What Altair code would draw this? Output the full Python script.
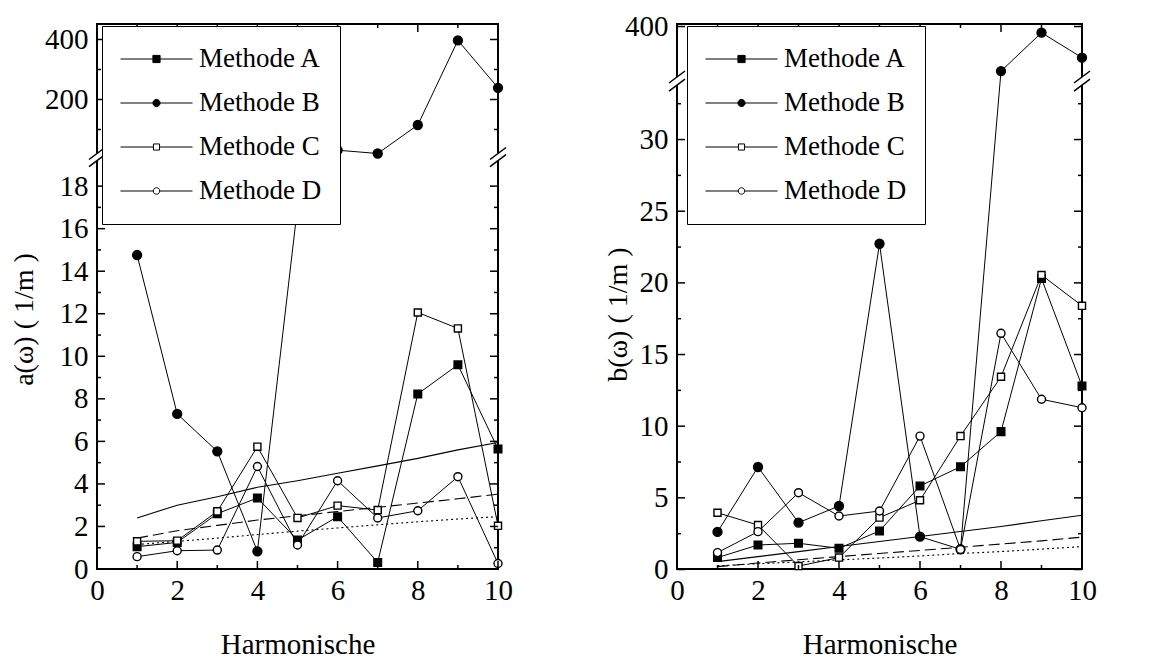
import altair as alt
import pandas as pd

FONT = "Liberation Serif"

harmonische = [1, 2, 3, 4, 5, 6, 7, 8, 9, 10]
methoden = ["Methode A", "Methode B", "Methode C", "Methode D"]

# a(ω) in 1/m, one list per method
a_methode_a = [1.05, 1.25, 2.6, 3.34, 1.36, 2.46, 0.31, 8.23, 9.6, 5.64]
a_methode_b = [14.76, 7.29, 5.53, 0.83, 17.0, 31.0, 20.0, 115.0, 397.0, 239.0]
a_methode_c = [1.30, 1.33, 2.71, 5.75, 2.40, 2.98, 2.77, 12.06, 11.31, 2.03]
a_methode_d = [0.58, 0.86, 0.89, 4.82, 1.13, 4.15, 2.40, 2.74, 4.34, 0.26]
# reference curves for a(ω)
a_kurve_voll = [2.4, 3.0, 3.4, 3.84, 4.15, 4.5, 4.85, 5.2, 5.6, 5.95]
a_kurve_strich = [1.45, 1.8, 2.05, 2.3, 2.5, 2.7, 2.9, 3.1, 3.3, 3.52]
a_kurve_punkt = [1.15, 1.3, 1.45, 1.62, 1.78, 1.93, 2.08, 2.22, 2.35, 2.46]

# b(ω) in 1/m, one list per method
b_methode_a = [0.83, 1.71, 1.83, 1.48, 2.69, 5.83, 7.17, 9.62, 20.3, 12.8]
b_methode_b = [2.62, 7.15, 3.27, 4.43, 22.73, 2.29, 1.41, 241.0, 378.0, 289.0]
b_methode_c = [3.96, 3.10, 0.24, 0.83, 3.62, 4.83, 9.31, 13.45, 20.55, 18.4]
b_methode_d = [1.18, 2.64, 5.36, 3.73, 4.08, 9.31, 1.40, 16.48, 11.88, 11.29]
# reference curves for b(ω)
b_kurve_voll = [0.55, 0.9, 1.25, 1.6, 1.95, 2.3, 2.65, 3.0, 3.4, 3.78]
b_kurve_strich = [0.2, 0.45, 0.68, 0.9, 1.12, 1.33, 1.55, 1.78, 2.0, 2.26]
b_kurve_punkt = [0.26, 0.4, 0.53, 0.67, 0.8, 0.94, 1.12, 1.25, 1.42, 1.6]

# tick values
x_major = [0, 2, 4, 6, 8, 10]
x_minor = [1, 3, 5, 7, 9]
a_y_major = [0, 2, 4, 6, 8, 10, 12, 14, 16, 18, 200, 400]
a_y_minor = [1, 3, 5, 7, 9, 11, 13, 15, 17, 100, 300]
b_y_major = [0, 5, 10, 15, 20, 25, 30, 400]
b_y_minor = [2.5, 7.5, 12.5, 17.5, 22.5, 27.5, 32.5]

# broken y axis: end of the lower part and start of the upper part
a_bruch = [19.2, 20.0]
b_bruch = [33.8, 220.0]

# piecewise y scales (lower part / upper part)
a_domain = [0, 19.2, 20, 450]
a_range = [545, 136.6, 129.5, 0.5]
b_domain = [0, 33.8, 220, 409]
b_range = [545.5, 61.1, 53, 0]

H = 545

# legend symbols: line — marker — line
SYM_SQ = "M-1,0H-0.1M0.1,0H1M-0.1,-0.1H0.1V0.1H-0.1Z"
SYM_CI = "M-1,0H-0.1M0.1,0H1M0.1,0A0.1,0.1 0 1,1 -0.1,0A0.1,0.1 0 1,1 0.1,0Z"
SYM_SQ_O = "M-1,0H-0.085M0.085,0H1M-0.085,-0.085H0.085V0.085H-0.085Z"
SYM_CI_O = "M-1,0H-0.09M0.09,0H1M0.09,0A0.09,0.09 0 1,1 -0.09,0A0.09,0.09 0 1,1 0.09,0Z"


def long_table(reihen):
    rows = []
    for name, werte in reihen:
        for h, v in zip(harmonische, werte):
            rows.append({"Methode": name, "harm": h, "wert": v})
    return pd.DataFrame(rows)


def panel(reihen, kurven, y_domain, y_range, y_major, y_minor, bruch,
          y_title, title_x, title_y, width, legend_x):
    xs = alt.Scale(domain=[0, 10], nice=False, zero=False)
    ys = alt.Scale(domain=y_domain, range=y_range, nice=False, zero=False)
    xaxis = alt.Axis(values=x_major, title="Harmonische", ticks=False, tickSize=0,
                     domain=False, grid=False, labelFlush=False, labelOverlap=False,
                     labelFont=FONT, labelFontSize=29, labelColor="black", labelPadding=7,
                     titleFont=FONT, titleFontSize=29, titleFontWeight="normal",
                     titleColor="black", titleX=width / 2, titleY=75,
                     titleBaseline="middle", titleAlign="center")
    yaxis = alt.Axis(values=y_major, title=y_title, ticks=False, tickSize=0,
                     domain=False, grid=False, labelFlush=False, labelOverlap=False,
                     labelFont=FONT, labelFontSize=29, labelColor="black", labelPadding=9,
                     titleFont=FONT, titleFontSize=28, titleFontWeight="normal",
                     titleColor="black", titleX=title_x, titleY=title_y,
                     titleAngle=270, titleBaseline="middle", titleAlign="center")

    def X(field="harm"):
        return alt.X(f"{field}:Q", scale=xs, axis=xaxis)

    def Y(field="wert"):
        return alt.Y(f"{field}:Q", scale=ys, axis=yaxis)

    daten = long_table(reihen)
    kurv = long_table(kurven)

    layers = []
    # reference curves
    layers.append(alt.Chart(kurv).transform_filter("datum.Methode == 'voll'")
                  .mark_line(color="black", strokeWidth=1.1).encode(X(), Y()))
    layers.append(alt.Chart(kurv).transform_filter("datum.Methode == 'strich'")
                  .mark_line(color="black", strokeWidth=1.1, strokeDash=[11, 5]).encode(X(), Y()))
    layers.append(alt.Chart(kurv).transform_filter("datum.Methode == 'punkt'")
                  .mark_line(color="black", strokeWidth=1.1, strokeDash=[2, 3]).encode(X(), Y()))
    # measured series
    layers.append(alt.Chart(daten).mark_line(color="black", strokeWidth=1)
                  .encode(X(), Y(), detail="Methode:N"))
    marker = {
        "Methode A": dict(shape="square", fill="black", size=58),
        "Methode B": dict(shape="circle", fill="black", size=80),
        "Methode C": dict(shape="square", fill="white", size=50),
        "Methode D": dict(shape="circle", fill="white", size=64),
    }
    for name, st in marker.items():
        layers.append(alt.Chart(daten).transform_filter(f"datum.Methode == '{name}'")
                      .mark_point(filled=True, stroke="black", strokeWidth=1.4, opacity=1, **st)
                      .encode(X(), Y()))

    # inward ticks on all four sides
    yt_major = pd.DataFrame({"wert": y_major})
    yt_minor = pd.DataFrame({"wert": y_minor})
    xt_major = pd.DataFrame({"harm": x_major})
    xt_minor = pd.DataFrame({"harm": x_minor})
    for df, ln in ((yt_major, 8), (yt_minor, 4)):
        layers.append(alt.Chart(df).mark_rule(color="black", strokeWidth=1.5)
                      .encode(Y(), x=alt.value(0), x2=alt.value(ln)))
        layers.append(alt.Chart(df).mark_rule(color="black", strokeWidth=1.5)
                      .encode(Y(), x=alt.value(width), x2=alt.value(width - ln)))
    for df, ln in ((xt_major, 8), (xt_minor, 4)):
        layers.append(alt.Chart(df).mark_rule(color="black", strokeWidth=1.5)
                      .encode(X(), y=alt.value(H), y2=alt.value(H - ln)))
        layers.append(alt.Chart(df).mark_rule(color="black", strokeWidth=1.5)
                      .encode(X(), y=alt.value(0), y2=alt.value(ln)))

    # axis break: gap in the frame plus two slashes on each side
    bdf = pd.DataFrame({"unten": [bruch[0]], "oben": [bruch[1]]})
    for xpos in (0, width):
        layers.append(alt.Chart(bdf).mark_rect(color="white")
                      .encode(Y("unten"), y2="oben:Q", x=alt.value(xpos - 3), x2=alt.value(xpos + 3)))
        for fld in ("unten", "oben"):
            layers.append(alt.Chart(bdf).mark_rule(color="black", strokeWidth=1.5,
                                                   yOffset=6, y2Offset=-6)
                          .encode(Y(fld), y2=f"{fld}:Q",
                                  x=alt.value(xpos - 8), x2=alt.value(xpos + 8)))

    # legend
    leg = alt.Legend(title=None, orient="none", legendX=legend_x, legendY=2,
                     fillColor="white", strokeColor="black", padding=18,
                     clipHeight=30, rowPadding=14, labelFont=FONT, labelFontSize=27,
                     labelColor="black", labelOffset=6, symbolSize=5184,
                     symbolStrokeWidth=1, symbolOpacity=1, labelLimit=300)
    layers.append(alt.Chart(daten).mark_point(filled=True, opacity=0, size=10,
                                              stroke="black", strokeWidth=1)
                  .encode(X(), Y(),
                          shape=alt.Shape("Methode:N", legend=leg,
                                          scale=alt.Scale(domain=methoden,
                                                          range=[SYM_SQ, SYM_CI, SYM_SQ_O, SYM_CI_O])),
                          fill=alt.Fill("Methode:N", legend=leg,
                                        scale=alt.Scale(domain=methoden,
                                                        range=["black", "black", "white", "white"]))))

    return alt.layer(*layers).properties(width=width, height=H)


links = panel(
    [("Methode A", a_methode_a), ("Methode B", a_methode_b),
     ("Methode C", a_methode_c), ("Methode D", a_methode_d)],
    [("voll", a_kurve_voll), ("strich", a_kurve_strich), ("punkt", a_kurve_punkt)],
    a_domain, a_range, a_y_major, a_y_minor, a_bruch,
    "a(ω) ( 1/m )", -73, 295, 401, 5)

rechts = panel(
    [("Methode A", b_methode_a), ("Methode B", b_methode_b),
     ("Methode C", b_methode_c), ("Methode D", b_methode_d)],
    [("voll", b_kurve_voll), ("strich", b_kurve_strich), ("punkt", b_kurve_punkt)],
    b_domain, b_range, b_y_major, b_y_minor, b_bruch,
    "b(ω) ( 1/m )", -59, 290, 405, 10)

chart = (
    alt.hconcat(links, rechts, spacing=179, bounds="flush")
    .resolve_scale(x="independent", y="independent", shape="independent", fill="independent")
    .resolve_legend(shape="independent", fill="independent")
    .configure_view(stroke="black", strokeWidth=2)
    .properties(padding={"left": 9, "top": 11, "right": 5, "bottom": 5}, background="white")
)

chart.save("out.html", embed_options={"renderer": "svg", "actions": False})
